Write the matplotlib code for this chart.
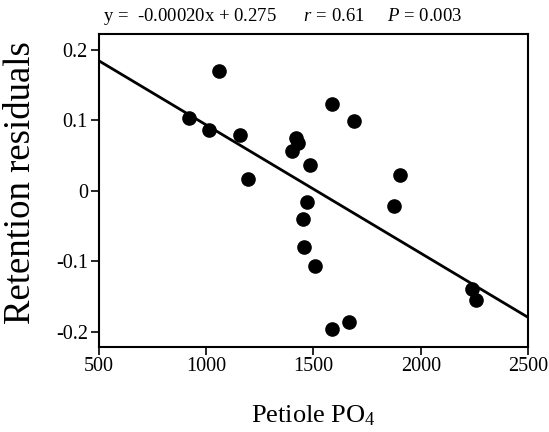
import numpy as np
import matplotlib.pyplot as plt

# petiole PO4 vs retention residuals
petiole_po4 = [920, 1014, 1058, 1159, 1196, 1398, 1418, 1428, 1450, 1458, 1470,
               1484, 1507, 1586, 1586, 1665, 1687, 1875, 1905, 2237, 2259]
residuals = [0.103, 0.086, 0.169, 0.079, 0.017, 0.057, 0.075, 0.068, -0.040, -0.080, -0.016,
             0.037, -0.106, 0.123, -0.196, -0.185, 0.099, -0.022, 0.022, -0.139, -0.154]

# regression line as drawn
fit_x = [500, 2500]
fit_y = [0.184, -0.179]

xticks = [500, 1000, 1500, 2000, 2500]
yticks = [-0.2, -0.1, 0, 0.1, 0.2]
ytick_labels = ['-0.2', '-0.1', '0', '0.1', '0.2']

plt.rcParams['font.family'] = ['Liberation Serif', 'DejaVu Serif']
plt.rcParams['mathtext.fontset'] = 'custom'
plt.rcParams['mathtext.rm'] = 'Liberation Serif'
plt.rcParams['mathtext.it'] = 'Liberation Serif:italic'

fig = plt.figure(figsize=(5.49, 4.32), dpi=100)
ax = fig.add_axes([0.1803, 0.1968, 0.7814, 0.7245])

ax.plot(fit_x, fit_y, color='black', linewidth=2.0)
ax.plot(petiole_po4, residuals, 'o', color='black', markersize=9.5)

ax.set_xlim(500, 2500)
ax.set_ylim(-0.221, 0.222)
ax.set_xticks(xticks)
ax.set_xticklabels([str(t) for t in xticks])
ax.set_yticks(yticks)
ax.set_yticklabels(ytick_labels)
ax.tick_params(direction='out', length=6, width=1.2, labelsize=14.5)
ax.tick_params(axis='x', pad=1)
ax.tick_params(axis='y', pad=2)
for s in ax.spines.values():
    s.set_linewidth(1.5)

ax.set_xlabel('Petiole PO$_4$', fontsize=19, labelpad=20)
ax.set_ylabel('Retention residuals', fontsize=26.5)
ax.yaxis.set_label_coords(-0.141, 0.526)

fig.text(0.188, 0.962, 'y =  -0.00020x + 0.275      $r$ = 0.61     $P$ = 0.003',
         fontsize=13.5, ha='left', va='center')

fig.savefig('out.png', dpi=100)
